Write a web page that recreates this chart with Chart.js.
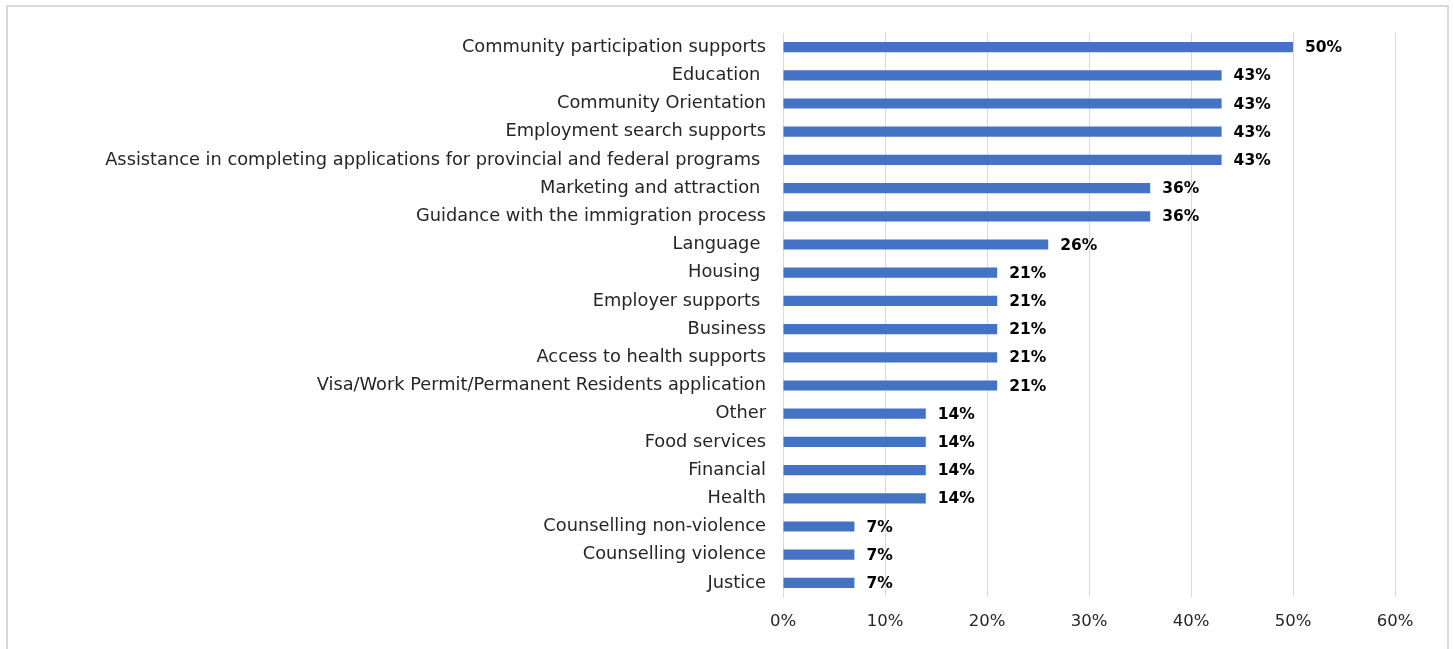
<!DOCTYPE html>
<html>
<head>
<meta charset="utf-8">
<script src="https://cdn.jsdelivr.net/npm/chart.js@4/dist/chart.umd.min.js"></script>
<style>
body{margin:0;background:#fff;}
.frame{position:absolute;left:6px;top:5px;width:1439px;height:700px;border:2px solid #d9d9d9;}
#supports{position:absolute;left:0;top:0;}
</style>
</head>
<body>
<div class="frame"></div>
<canvas id="supports" width="1454" height="649"></canvas>
<script>
const categories = [
 'Community participation supports',
 'Education ',
 'Community Orientation',
 'Employment search supports',
 'Assistance in completing applications for provincial and federal programs ',
 'Marketing and attraction ',
 'Guidance with the immigration process',
 'Language ',
 'Housing ',
 'Employer supports ',
 'Business',
 'Access to health supports',
 'Visa/Work Permit/Permanent Residents application',
 'Other',
 'Food services',
 'Financial',
 'Health',
 'Counselling non-violence',
 'Counselling violence',
 'Justice'
];
const shares = [50,43,43,43,43,36,36,26,21,21,21,21,21,14,14,14,14,7,7,7];
const xTicks = [0,10,20,30,40,50,60];

const fontName = '"DejaVu Sans", sans-serif';

// value labels at the end of each bar
const barLabels = {
 id:'barLabels',
 afterDatasetsDraw(chart){
  const ctx = chart.ctx;
  const meta = chart.getDatasetMeta(0);
  ctx.save();
  ctx.font = 'bold 15.5px ' + fontName;
  ctx.fillStyle = '#000';
  ctx.textBaseline = 'middle';
  ctx.textAlign = 'left';
  meta.data.forEach((bar,i)=>{
   ctx.fillText(shares[i] + '%', bar.x + 12, bar.y + 1);
  });
  ctx.restore();
 }
};

let supportsChart = new Chart(document.getElementById('supports'),{
type:'bar',
data:{
 labels:categories,
 datasets:[{
  label:'Share',
  data:shares,
  backgroundColor:'#4472C4',
  borderWidth:0,
  barPercentage:0.72,
  categoryPercentage:0.5,
 }]
},
options:{
 indexAxis:'y',
 responsive:false,
 animation:false,
 layout:{padding:{top:33,right:59,left:0,bottom:0}},
 plugins:{legend:{display:false},tooltip:{enabled:false}},
 scales:{
  x:{
   min:0,max:60,
   afterBuildTicks(axis){axis.ticks = xTicks.map(v=>({value:v}));},
   afterFit(axis){axis.height = 52;},
   grid:{color:'#d9d9d9',drawTicks:false,lineWidth:1},
   border:{display:false},
   ticks:{padding:15,color:'#262626',font:{family:fontName,size:16.5},callback:v=>v+'%'}
  },
  y:{
   afterFit(axis){axis.width = 783;},
   grid:{display:false,drawTicks:false},
   border:{display:true,color:'#d9d9d9',width:1},
   ticks:{padding:17,color:'#262626',font:{family:fontName,size:17.8},autoSkip:false}
  }
 }
},
plugins:[barLabels]
});
</script>
</body>
</html>
